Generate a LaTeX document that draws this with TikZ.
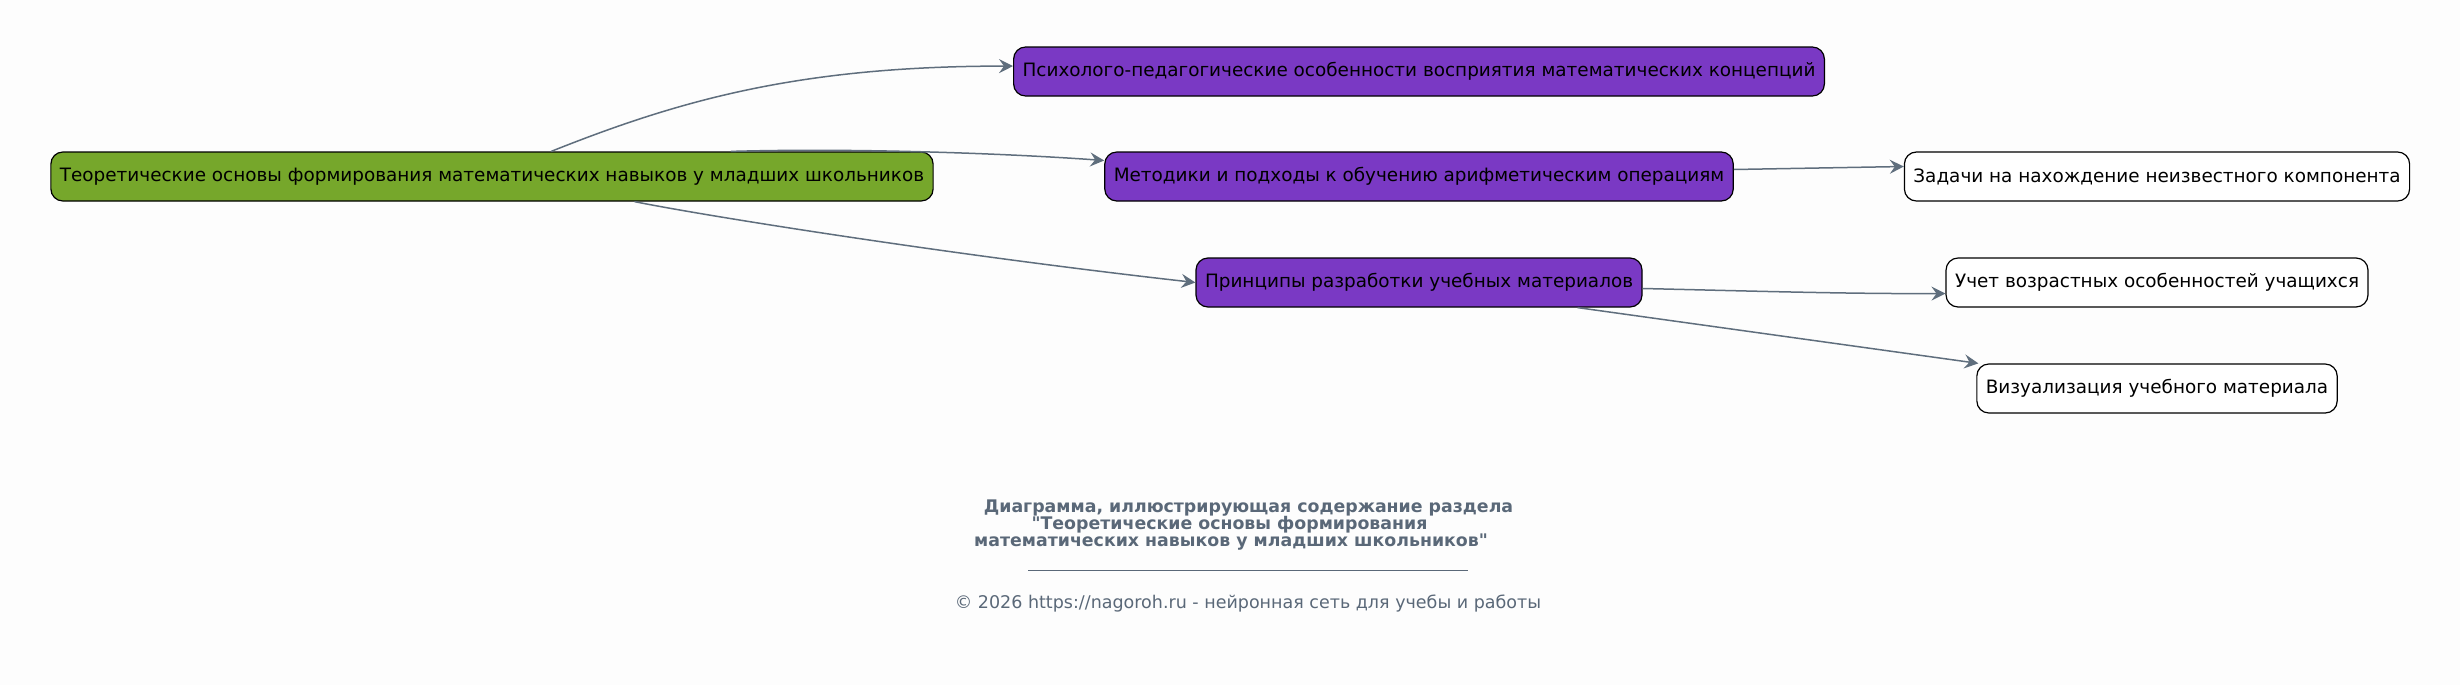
\documentclass[tikz,border=0pt]{standalone}
\usepackage{fontspec}
\setmainfont{DejaVu Sans}
\usetikzlibrary{arrows.meta}
\definecolor{rootgreen}{RGB}{118,167,43}
\definecolor{topicviolet}{RGB}{122,57,196}
\definecolor{edgegray}{RGB}{95,110,125}
\definecolor{titlegray}{RGB}{90,104,120}
\definecolor{pagebg}{RGB}{253,253,253}
% straight double quote, bypassing the tex-text mapping
\newcommand\strquote{\XeTeXglyph\XeTeXcharglyph"22\relax}
\begin{document}
\begin{tikzpicture}[x=0.5pt,y=0.5pt,yscale=-1,xscale=1,
  box/.style={draw=black,line width=0.6pt,rounded corners=6pt,minimum height=24.5pt,inner xsep=4.5pt,font=\fontsize{9.2}{11}\selectfont},
  rootbox/.style={box,fill=rootgreen},
  topicbox/.style={box,fill=topicviolet},
  leafbox/.style={box,fill=white},
  link/.style={draw=edgegray,line width=0.75pt,-{Stealth[length=7pt,width=7pt,inset=2.5pt]}}]
				%set diagram size 2460 x 685
				\fill [pagebg] (0,0) rectangle (2460,685);
				\useasboundingbox (0,0) rectangle (2460,685);

				% Nodes
				\node [rootbox] (root) at (492,176.5) {Теоретические основы формирования математических навыков у младших школьников};
				\node [topicbox] (psych) at (1419,71.5) {Психолого-педагогические особенности восприятия математических концепций};
				\node [topicbox] (metod) at (1419,176.5) {Методики и подходы к обучению арифметическим операциям};
				\node [topicbox] (princ) at (1419,282.5) {Принципы разработки учебных материалов};
				\node [leafbox] (zadachi) at (2157,176.5) {Задачи на нахождение неизвестного компонента};
				\node [leafbox] (uchet) at (2157,282.5) {Учет возрастных особенностей учащихся};
				\node [leafbox] (vizual) at (2157,388.5) {Визуализация учебного материала};

				% Links (yshift runs downward here, because of yscale=-1)
				\draw [link] (root.23) .. controls (680,100) and (800,66) .. ([yshift=-2.7pt]psych.west);
				\draw [link] (root.6) .. controls (850,148) and (1000,153) .. ([yshift=-8pt]metod.west);
				\draw [link] (root.-10.6) .. controls (700,215) and (950,255) .. (princ.west);
				\draw [link] ([yshift=-3.5pt]metod.east) -- ([yshift=-5pt]zadachi.west);
				\draw [link] ([yshift=3pt]princ.east) .. controls (1750,291) and (1850,294) .. ([yshift=5.5pt]uchet.west);
				\draw [link] (princ.-9) -- (vizual.172);

				% Caption
				\node [font=\bfseries\fontsize{8.68}{8.7}\selectfont,text=titlegray,align=center,inner sep=0pt] (caption) at (1248.5,525) {Диаграмма, иллюстрирующая содержание раздела\\\strquote Теоретические основы формирования\rule{19pt}{0pt}\\математических навыков у младших школьников\strquote\rule{17.5pt}{0pt}};
				\draw [titlegray,line width=0.5pt] (1028,570) -- (1468,570);
				\node [font=\fontsize{8.75}{10}\selectfont,text=titlegray,inner sep=0pt] (copyright) at (1248,604) {© 2026 https://nagoroh.ru - нейронная сеть для учебы и работы};
\end{tikzpicture}
\end{document}
